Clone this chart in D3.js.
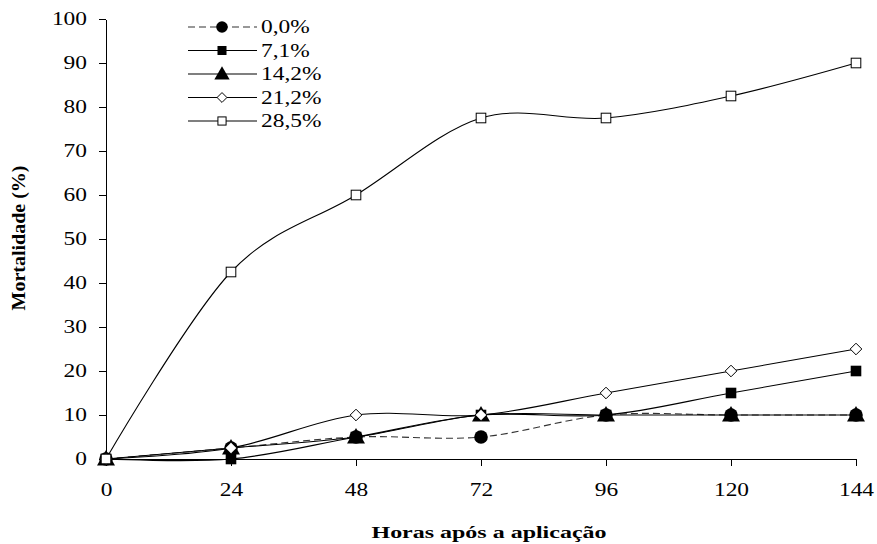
<!DOCTYPE html>
<html lang="pt">
<head>
  <meta charset="UTF-8">
  <title>Mortalidade</title>
  <script src="https://d3js.org/d3.v7.min.js"></script>
  <style>
    body { margin: 0; background: #fff; }
    svg { display: block; }
    text { font-family: "Liberation Serif", "Times New Roman", serif; fill: #000; }
    .axis path, .axis line { stroke: #000; stroke-width: 1; shape-rendering: crispEdges; }
    .axis text { font-size: 18px; }
  </style>
</head>
<body>
  <svg width="877" height="544"></svg>

  <script>
    const hours = [0, 24, 48, 72, 96, 120, 144];
    const yTicks = [0, 10, 20, 30, 40, 50, 60, 70, 80, 90, 100];
    const seriesNames = ['0,0%', '7,1%', '14,2%', '21,2%', '28,5%'];
    const dose00 = [0, 2.5, 5, 5, 10, 10, 10];
    const dose71 = [0, 0, 5, 10, 10, 15, 20];
    const dose142 = [0, 2.5, 5, 10, 10, 10, 10];
    const dose212 = [0, 2.5, 10, 10, 15, 20, 25];
    const dose285 = [0, 42.5, 60, 77.5, 77.5, 82.5, 90];

    const series = [
      { name: seriesNames[0], values: dose00, marker: 'circle', dashed: true },
      { name: seriesNames[1], values: dose71, marker: 'square', dashed: false },
      { name: seriesNames[2], values: dose142, marker: 'triangle', dashed: false },
      { name: seriesNames[3], values: dose212, marker: 'diamond', dashed: false },
      { name: seriesNames[4], values: dose285, marker: 'opensquare', dashed: false }
    ];

    const svg = d3.select('svg');

    const x = d3.scaleLinear().domain([0, 144]).range([106, 856]);
    const y = d3.scaleLinear().domain([0, 100]).range([459, 19]);

    // stretch text horizontally, the original glyphs are wider than Times
    function stretch(sel, k) {
      sel.each(function () {
        const len = this.getComputedTextLength();
        d3.select(this).attr('textLength', len * k).attr('lengthAdjust', 'spacingAndGlyphs');
      });
    }

    const xAxis = svg.append('g')
      .attr('class', 'axis')
      .attr('transform', `translate(0, ${y(0)})`)
      .call(d3.axisBottom(x).tickValues(hours).tickSize(7).tickSizeOuter(0).tickPadding(17));
    xAxis.selectAll('text').call(stretch, 1.3);

    const yAxis = svg.append('g')
      .attr('class', 'axis')
      .attr('transform', `translate(${x(0)}, 0)`)
      .call(d3.axisLeft(y).tickValues(yTicks).tickSize(7).tickSizeOuter(0).tickPadding(12));
    yAxis.selectAll('text').call(stretch, 1.3);

    svg.append('text')
      .attr('x', 489)
      .attr('y', 538)
      .attr('text-anchor', 'middle')
      .style('font-size', '17px')
      .style('font-weight', 'bold')
      .attr('textLength', 235)
      .attr('lengthAdjust', 'spacingAndGlyphs')
      .text('Horas após a aplicação');

    svg.append('text')
      .attr('transform', 'translate(25, 238) rotate(-90)')
      .attr('text-anchor', 'middle')
      .style('font-size', '18px')
      .style('font-weight', 'bold')
      .attr('textLength', 145)
      .attr('lengthAdjust', 'spacingAndGlyphs')
      .text('Mortalidade (%)');

    const line = d3.line()
      .x((d, i) => x(hours[i]))
      .y(d => y(d))
      .curve(d3.curveCardinal.tension(0));

    function drawMarker(g, type, cx, cy, s) {
      if (type === 'circle') {
        g.append('circle').attr('cx', cx).attr('cy', cy).attr('r', 6.8 * s).attr('fill', '#000');
      } else if (type === 'square') {
        const h = 5.3 * s;
        g.append('rect').attr('x', cx - h).attr('y', cy - h).attr('width', 2 * h).attr('height', 2 * h).attr('fill', '#000');
      } else if (type === 'triangle') {
        const w = 9 * s, t = 9 * s, b = 6.5 * s;
        g.append('path').attr('d', `M${cx},${cy - t}L${cx + w},${cy + b}L${cx - w},${cy + b}Z`).attr('fill', '#000');
      } else if (type === 'diamond') {
        const h = 5.8 * s;
        g.append('path').attr('d', `M${cx},${cy - h}L${cx + h},${cy}L${cx},${cy + h}L${cx - h},${cy}Z`)
          .attr('fill', '#fff').attr('stroke', '#000').attr('stroke-width', 1);
      } else {
        const h = 4.8 * s;
        g.append('rect').attr('x', cx - h).attr('y', cy - h).attr('width', 2 * h).attr('height', 2 * h)
          .attr('fill', '#fff').attr('stroke', '#000').attr('stroke-width', 1);
      }
    }

    series.forEach(s => {
      const g = svg.append('g');
      g.append('path')
        .datum(s.values)
        .attr('d', line)
        .attr('fill', 'none')
        .attr('stroke', s.dashed ? '#333' : '#000')
        .attr('stroke-width', 1.1)
        .attr('stroke-dasharray', s.dashed ? '7,4' : null);
      s.values.forEach((v, i) => drawMarker(g, s.marker, x(hours[i]), y(v), 1));
    });

    // legend
    const legend = svg.append('g');
    series.forEach((s, i) => {
      const ly = 27 + i * 23.5;
      legend.append('line')
        .attr('x1', 188).attr('x2', 257).attr('y1', ly).attr('y2', ly)
        .attr('stroke', s.dashed ? '#333' : '#000')
        .attr('stroke-width', 1.1)
        .attr('stroke-dasharray', s.dashed ? '7,4' : null);
      drawMarker(legend, s.marker, 222, ly, 0.85);
      legend.append('text')
        .attr('x', 261).attr('y', ly)
        .attr('dy', '0.35em')
        .style('font-size', '18px')
        .text(s.name)
        .call(stretch, 1.3);
    });
  </script>
</body>
</html>
